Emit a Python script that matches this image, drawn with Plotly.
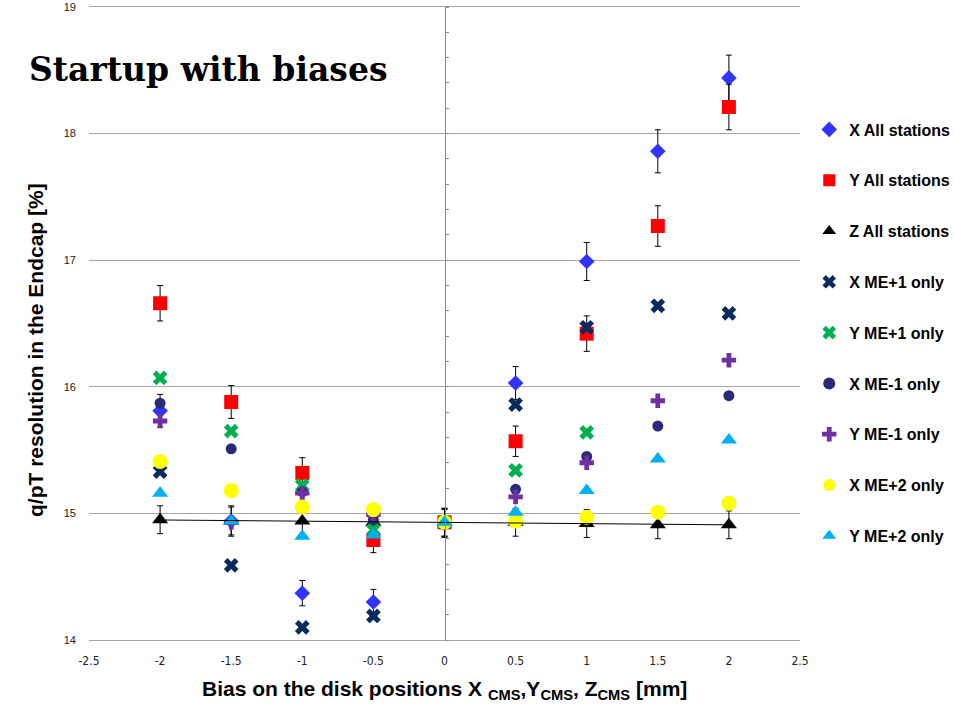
import numpy as np
import plotly.graph_objects as go

# Bias applied to the disk positions [mm]
bias = [-2, -1.5, -1, -0.5, 0, 0.5, 1, 1.5, 2]

# q/pT resolution in the endcap [%] for each bias scenario
x_all = [15.81, 14.94, 14.37, 14.30, 14.92, 16.03, 16.99, 17.86, 18.44]
x_all_err = [0.13, 0.12, 0.10, 0.10, 0.11, 0.13, 0.15, 0.17, 0.18]
y_all = [16.66, 15.88, 15.32, 14.79, 14.93, 15.57, 16.42, 17.27, 18.21]
y_all_err = [0.14, 0.13, 0.12, 0.10, 0.11, 0.12, 0.14, 0.16, 0.18]
z_all = [14.95, 14.94, 14.94, 14.93, 14.93, 14.93, 14.92, 14.91, 14.91]
z_all_err = [0.11, 0.11, 0.11, 0.11, 0.11, 0.11, 0.11, 0.11, 0.11]
x_me1p = [15.33, 14.59, 14.10, 14.19, 14.93, 15.86, 16.47, 16.64, 16.58]
y_me1p = [16.07, 15.65, 15.22, 14.87, 14.93, 15.34, 15.64, None, None]
x_me1m = [15.87, 15.51, 15.17, 14.95, 14.93, 15.19, 15.45, 15.69, 15.93]
y_me1m = [15.73, 14.93, 15.16, 14.99, 14.93, 15.13, 15.40, 15.89, 16.21]
x_me2 = [15.41, 15.18, 15.05, 15.03, 14.93, 14.94, 14.97, 15.01, 15.08]
y_me2 = [15.16, 14.94, 14.82, 14.83, 14.93, 15.01, 15.18, 15.43, 15.58]

x_ticks = [-2.5, -2, -1.5, -1, -0.5, 0, 0.5, 1, 1.5, 2, 2.5]
x_tick_text = ["-2.5", "-2", "-1.5", "-1", "-0.5", "0", "0.5", "1", "1.5", "2", "2.5"]
y_ticks = [14, 15, 16, 17, 18, 19]

series = [
    ("X All stations", x_all, x_all_err, "diamond", 12, "#3333FF"),
    ("Y All stations", y_all, y_all_err, "square", 14, "#FF0000"),
    ("Z All stations", z_all, z_all_err, "triangle-up", 14, "#000000"),
    ("X ME+1 only", x_me1p, None, "x", 13, "#0A2A5E"),
    ("Y ME+1 only", y_me1p, None, "x", 13, "#00B050"),
    ("X ME-1 only", x_me1m, None, "circle", 11, "#2A2A78"),
    ("Y ME-1 only", y_me1m, None, "cross", 12, "#7030A0"),
    ("X ME+2 only", x_me2, None, "circle", 15, "#FFFF00"),
    ("Y ME+2 only", y_me2, None, "triangle-up", 14, "#00B0F0"),
]

fig = go.Figure()
for i, (name, vals, err, sym, size, col) in enumerate(series):
    err_cfg = None
    if err is not None:
        err_cfg = dict(type="data", array=err, visible=True,
                       color="#000000", thickness=1, width=3)
    fig.add_trace(go.Scatter(
        x=bias, y=vals, name=name, mode="markers",
        marker=dict(symbol=sym, size=size, color=col, line=dict(width=0)),
        error_y=err_cfg, legendgroup=f"g{i}",
    ))

# Linear trend of the Z scan
coef = np.polyfit(bias, z_all, 1)
trend_x = [bias[0], bias[-1]]
trend_y = list(np.polyval(coef, trend_x))
fig.add_trace(go.Scatter(
    x=trend_x, y=trend_y, mode="lines", yaxis="y2",
    line=dict(color="#000000", width=1), showlegend=False, hoverinfo="skip",
))

narrow = "DejaVu Sans Condensed, Liberation Sans Narrow, Arial Narrow, Liberation Sans"

fig.update_layout(
    width=954, height=713,
    margin=dict(l=89, r=154, t=7, b=73, autoexpand=False),
    paper_bgcolor="white", plot_bgcolor="white",
    font=dict(family="Liberation Sans, Arial, sans-serif", color="#000000"),
    xaxis=dict(
        range=[-2.5, 2.5], tickvals=x_ticks, ticktext=x_tick_text,
        showgrid=False, zeroline=False, ticks="", automargin=False,
        showline=True, mirror=True, linecolor="#A6A6A6", linewidth=1,
        tickfont=dict(family=narrow, size=12, color="#222222"),
        ticklabelstandoff=10,
    ),
    yaxis=dict(
        range=[14, 19], tickvals=y_ticks, automargin=False,
        showgrid=True, gridcolor="#A6A6A6", gridwidth=1,
        zeroline=False, showline=False, ticks="",
        tickfont=dict(size=11, color="#222222"),
        ticklabelstandoff=12,
    ),
    yaxis2=dict(
        range=[14, 19], overlaying="y", anchor="free", position=0.5,
        side="right", showgrid=False, zeroline=False, automargin=False,
        showline=True, linecolor="#8C8C8C", linewidth=1,
        ticks="outside", ticklen=3, tickcolor="#8C8C8C", dtick=0.2, tick0=14,
        showticklabels=False,
    ),
    legend=dict(
        x=1.013, xanchor="left", y=0.8333, yanchor="top",
        font=dict(size=16, weight="bold", color="#000000"),
        tracegroupgap=27, itemsizing="constant", bgcolor="rgba(0,0,0,0)",
    ),
    showlegend=True,
)

fig.add_annotation(
    text="Startup with biases", xref="paper", yref="paper",
    x=-0.0872, y=0.9005, xanchor="left", yanchor="middle", showarrow=False,
    font=dict(family="DejaVu Serif", size=33, weight="bold", color="#000000"),
)
fig.add_annotation(
    text="Bias on the disk positions X <sub>CMS</sub>,Y<sub>CMS</sub>, Z<sub>CMS</sub> [mm]",
    xref="paper", yref="paper", x=0.5, y=-0.079, xanchor="center", yanchor="middle",
    showarrow=False,
    font=dict(family="Liberation Sans", size=21, weight="bold", color="#000000"),
)
fig.add_annotation(
    text="q/pT resolution in the Endcap [%]", xref="paper", yref="paper",
    x=-0.076, y=0.4581, xanchor="center", yanchor="middle", textangle=-90,
    showarrow=False,
    font=dict(size=21, weight="bold", color="#000000"),
)

fig.write_html("out.html")
